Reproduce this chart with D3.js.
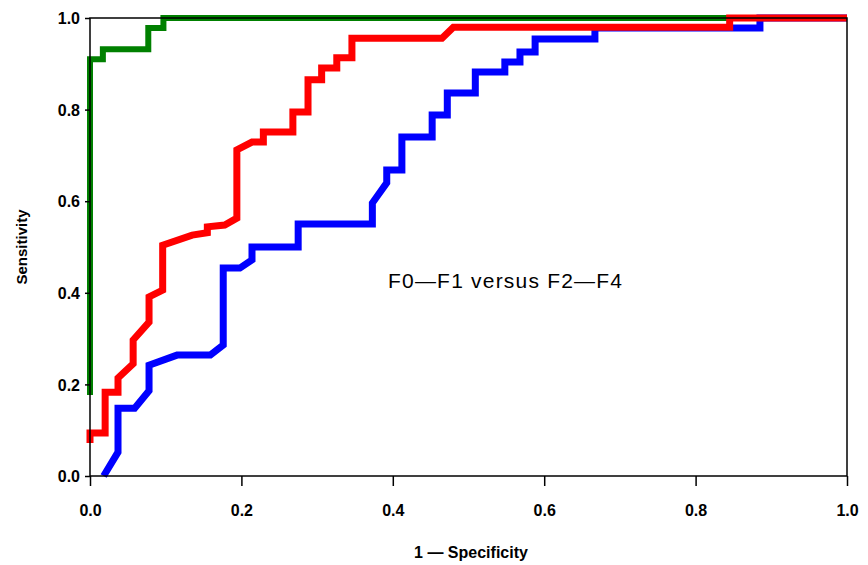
<!DOCTYPE html>
<html>
<head>
<meta charset="utf-8">
<script src="https://cdn.jsdelivr.net/npm/d3@7/dist/d3.min.js"></script>
<style>
  html, body { margin: 0; padding: 0; background: #fff; }
  svg { display: block; }
</style>
</head>
<body>
<svg id="chart" width="868" height="565"></svg>
<script>
// ROC curves: sensitivity against 1 - specificity
const tickValues = [0, 0.2, 0.4, 0.6, 0.8, 1.0];

const greenFpr = [0, 0, 0.017, 0.017, 0.077, 0.077, 0.097, 0.097, 1.0];
const greenTpr = [0.177, 0.91, 0.91, 0.932, 0.932, 0.978, 0.978, 1.0, 1.0];

const blueFpr = [0.018, 0.037, 0.037, 0.059, 0.078, 0.078, 0.115, 0.159, 0.176, 0.176,
  0.198, 0.214, 0.214, 0.275, 0.275, 0.373, 0.373, 0.392, 0.392, 0.412,
  0.412, 0.452, 0.452, 0.472, 0.472, 0.509, 0.509, 0.548, 0.548, 0.568,
  0.568, 0.588, 0.588, 0.667, 0.667, 0.885, 0.885, 1.0];
const blueTpr = [0, 0.052, 0.148, 0.148, 0.186, 0.242, 0.264, 0.264, 0.286, 0.454,
  0.454, 0.472, 0.5, 0.5, 0.55, 0.55, 0.596, 0.64, 0.668, 0.668,
  0.740, 0.740, 0.788, 0.788, 0.836, 0.836, 0.882, 0.882, 0.904, 0.904,
  0.926, 0.926, 0.954, 0.954, 0.978, 0.978, 1.0, 1.0];

const redFpr = [0, 0, 0.020, 0.020, 0.037, 0.037, 0.057, 0.057, 0.078, 0.078,
  0.096, 0.096, 0.135, 0.155, 0.155, 0.178, 0.194, 0.194, 0.214, 0.229,
  0.229, 0.268, 0.268, 0.288, 0.288, 0.306, 0.306, 0.326, 0.326, 0.346,
  0.346, 0.465, 0.48, 0.845, 0.845, 1.0];
const redTpr = [0.072, 0.094, 0.094, 0.183, 0.183, 0.214, 0.245, 0.297, 0.336, 0.391,
  0.406, 0.504, 0.526, 0.531, 0.544, 0.548, 0.563, 0.712, 0.729, 0.729,
  0.751, 0.751, 0.795, 0.795, 0.865, 0.865, 0.891, 0.891, 0.913, 0.913,
  0.956, 0.956, 0.98, 0.98, 1.0, 1.0];

const series = [
  { name: "green", fpr: greenFpr, tpr: greenTpr, color: "#008000", width: 6 },
  { name: "blue",  fpr: blueFpr,  tpr: blueTpr,  color: "#0000ff", width: 7 },
  { name: "red",   fpr: redFpr,   tpr: redTpr,   color: "#ff0000", width: 7 }
];

const svg = d3.select("#chart");
const plotLeft = 90, plotRight = 847, plotTop = 18, plotBottom = 476;

const x = d3.scaleLinear().domain([0, 1]).range([plotLeft, plotRight]);
const y = d3.scaleLinear().domain([0, 1]).range([plotBottom, plotTop]);

const line = d3.line()
  .x(d => x(d[0]))
  .y(d => y(d[1]));

// curves
svg.append("g")
  .selectAll("path")
  .data(series)
  .join("path")
  .attr("fill", "none")
  .attr("stroke", d => d.color)
  .attr("stroke-width", d => d.width)
  .attr("stroke-linejoin", "miter")
  .attr("stroke-linecap", "butt")
  .attr("d", d => line(d.fpr.map((v, i) => [v, d.tpr[i]])));

// frame around the plot
svg.append("rect")
  .attr("x", plotLeft).attr("y", plotTop)
  .attr("width", plotRight - plotLeft).attr("height", plotBottom - plotTop)
  .attr("fill", "none")
  .attr("stroke", "#000")
  .attr("stroke-width", 1.5);

const fmt = d3.format(".1f");
const tickFont = "'Liberation Sans', Arial, sans-serif";

const yAxis = svg.append("g")
  .attr("transform", `translate(${plotLeft},0)`)
  .call(d3.axisLeft(y).tickValues(tickValues).tickFormat(fmt).tickSize(5).tickSizeOuter(0).tickPadding(5));
yAxis.select(".domain").remove();
yAxis.selectAll(".tick line").attr("stroke", "#000").attr("stroke-width", 1.5);
yAxis.selectAll(".tick text")
  .attr("fill", "#000")
  .attr("dy", "0.36em")
  .style("font-family", tickFont)
  .style("font-weight", "bold")
  .style("font-size", "16px");

const xAxis = svg.append("g")
  .attr("transform", `translate(0,${plotBottom})`)
  .call(d3.axisBottom(x).tickValues(tickValues).tickFormat(fmt).tickSize(10).tickSizeOuter(0));
xAxis.select(".domain").remove();
xAxis.selectAll(".tick line").attr("stroke", "#000").attr("stroke-width", 1.5);
xAxis.selectAll(".tick text")
  .attr("fill", "#000")
  .attr("y", 40)
  .attr("dy", 0)
  .style("font-family", tickFont)
  .style("font-weight", "bold")
  .style("font-size", "16px");

// axis titles
svg.append("text")
  .attr("x", 471).attr("y", 558)
  .attr("text-anchor", "middle")
  .style("font-family", tickFont)
  .style("font-weight", "bold")
  .style("font-size", "16px")
  .text("1 — Specificity");

svg.append("text")
  .attr("transform", "translate(27,247) rotate(-90)")
  .attr("text-anchor", "middle")
  .style("font-family", tickFont)
  .style("font-weight", "bold")
  .style("font-size", "15px")
  .text("Sensitivity");

// annotation
svg.append("text")
  .attr("x", 388).attr("y", 288)
  .style("font-family", tickFont)
  .style("font-size", "21px")
  .style("letter-spacing", "1.2px")
  .text("F0—F1 versus F2—F4");
</script>
</body>
</html>
